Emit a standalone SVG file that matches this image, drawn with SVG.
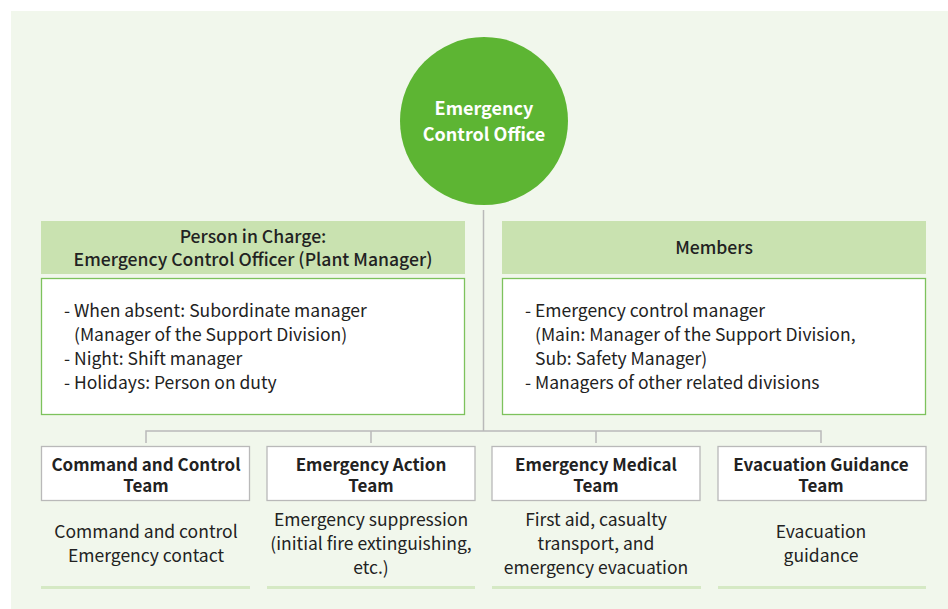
<svg xmlns="http://www.w3.org/2000/svg" width="948" height="609" viewBox="0 0 948 609">
<style>
text{font-family:"Noto Sans CJK KR","Noto Sans",sans-serif;fill:#222;}
.b{font-weight:bold;font-size:17px;}
.h{font-weight:500;font-size:17.6px;}
.t{font-size:17.5px;}
.ct{text-anchor:middle;}
.hdr{fill:#c9e2b0;}
.cbox{fill:#fff;stroke:#7dc25c;stroke-width:1.3;}
.team{fill:#fff;stroke:#b9b9b9;stroke-width:1.3;}
.ul{fill:#d5e9c4;}
.conn{fill:none;stroke:#b9b9b9;stroke-width:1.5;}
</style>
<rect x="11" y="11" width="937" height="598" fill="#f1f7ec"/>
<g id="connectors">
<path class="conn" d="M483.5 210 V431"/>
<path class="conn" d="M146 443 V431 H821 V443 M371 431 V443 M596 431 V443"/>
</g>
<g id="office">
<circle cx="484" cy="121" r="84" fill="#5db533"/>
<text class="b ct" x="484" y="115" style="fill:#fff;font-size:18px">Emergency</text>
<text class="b ct" x="484" y="141" style="fill:#fff;font-size:18px">Control Office</text>
</g>
<g id="person-in-charge">
<rect class="hdr" x="41" y="221" width="424" height="53"/>
<text class="h ct" x="253" y="243">Person in Charge:</text>
<text class="h ct" x="253" y="266">Emergency Control Officer (Plant Manager)</text>
<rect class="cbox" x="41.5" y="278.5" width="423" height="136"/>
<text class="t" x="64" y="317">- When absent: Subordinate manager</text>
<text class="t" x="74" y="341">(Manager of the Support Division)</text>
<text class="t" x="64" y="365">- Night: Shift manager</text>
<text class="t" x="64" y="389">- Holidays: Person on duty</text>
</g>
<g id="members">
<rect class="hdr" x="502" y="221" width="424" height="53"/>
<text class="h ct" x="714" y="254">Members</text>
<rect class="cbox" x="502.5" y="278.5" width="423" height="136"/>
<text class="t" x="525" y="317">- Emergency control manager</text>
<text class="t" x="535" y="341">(Main: Manager of the Support Division,</text>
<text class="t" x="535" y="365">Sub: Safety Manager)</text>
<text class="t" x="525" y="389">- Managers of other related divisions</text>
</g>
<g id="team-command">
<rect class="team" x="41.5" y="446.5" width="208" height="54"/>
<text class="b ct" x="146" y="470.5">Command and Control</text>
<text class="b ct" x="146" y="492">Team</text>
<text class="t ct" x="146" y="538">Command and control</text>
<text class="t ct" x="146" y="562">Emergency contact</text>
<rect class="ul" x="41" y="586" width="209" height="3"/>
</g>
<g id="team-action">
<rect class="team" x="267" y="446.5" width="208" height="54"/>
<text class="b ct" x="371" y="470.5">Emergency Action</text>
<text class="b ct" x="371" y="492">Team</text>
<text class="t ct" x="371" y="526">Emergency suppression</text>
<text class="t ct" x="371" y="550">(initial fire extinguishing,</text>
<text class="t ct" x="371" y="574">etc.)</text>
<rect class="ul" x="267" y="586" width="208" height="3"/>
</g>
<g id="team-medical">
<rect class="team" x="492" y="446.5" width="208" height="54"/>
<text class="b ct" x="596" y="470.5">Emergency Medical</text>
<text class="b ct" x="596" y="492">Team</text>
<text class="t ct" x="596" y="526">First aid, casualty</text>
<text class="t ct" x="596" y="550">transport, and</text>
<text class="t ct" x="596" y="574">emergency evacuation</text>
<rect class="ul" x="492" y="586" width="209" height="3"/>
</g>
<g id="team-evacuation">
<rect class="team" x="718" y="446.5" width="208" height="54"/>
<text class="b ct" x="821" y="470.5">Evacuation Guidance</text>
<text class="b ct" x="821" y="492">Team</text>
<text class="t ct" x="821" y="538">Evacuation</text>
<text class="t ct" x="821" y="562">guidance</text>
<rect class="ul" x="718" y="586" width="208" height="3"/>
</g>
</svg>
